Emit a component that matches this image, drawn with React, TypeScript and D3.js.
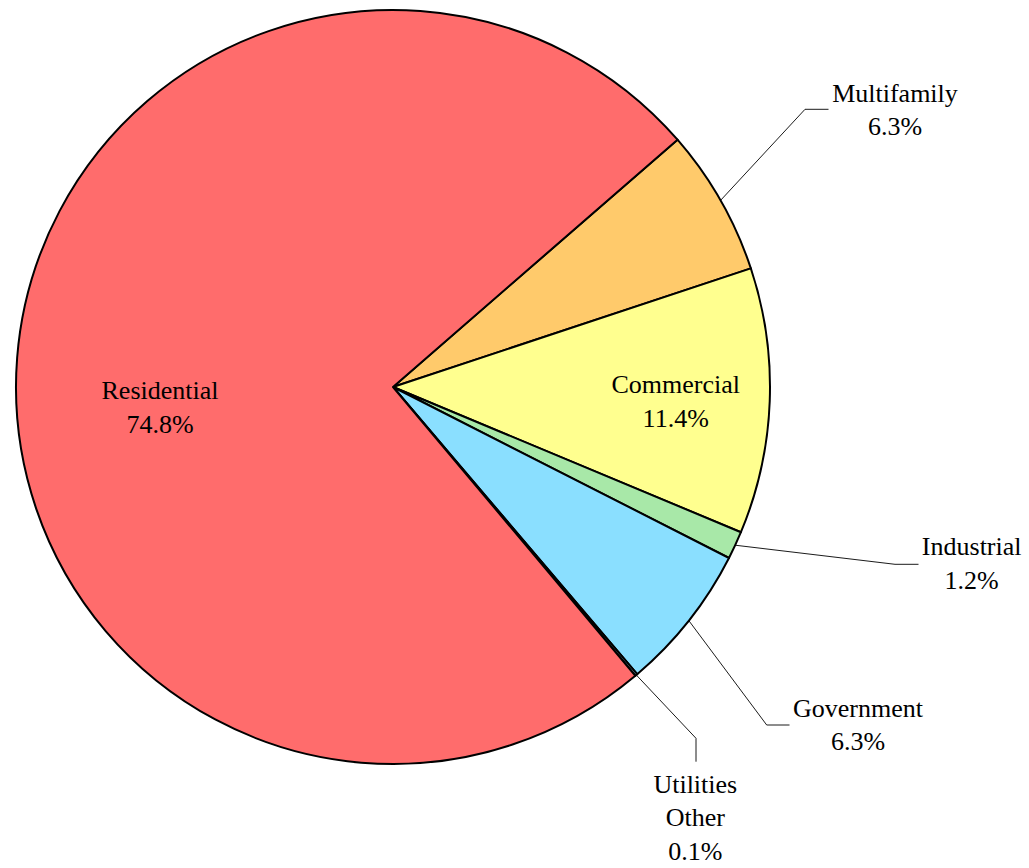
import React from "react";
import * as d3 from "d3";

const categories = ["Multifamily", "Commercial", "Industrial", "Government", "Utilities Other", "Residential"];
const values = [6.3, 11.4, 1.2, 6.3, 0.1, 74.8];
const labelLines = [["Multifamily", "6.3%"], ["Commercial", "11.4%"], ["Industrial", "1.2%"], ["Government", "6.3%"], ["Utilities", "Other", "0.1%"], ["Residential", "74.8%"]];
const colors = ["#FFCA6B", "#FFFF8F", "#A8E8A8", "#8ADFFF", "#8ADFFF", "#FF6C6C"];

// layout: label block center x, first baseline y, optional leader elbow + end
const labelLayout: { x: number; y: number; leader?: [number, number][] }[] = [
  { x: 895, y: 101.7, leader: [[805, 109.3], [828.5, 109.3]] },
  { x: 675.7, y: 393.3 },
  { x: 971.7, y: 555.3, leader: [[895, 564.3], [918.5, 564.3]] },
  { x: 858, y: 716.7, leader: [[766.7, 725], [789.5, 725]] },
  { x: 695.3, y: 792.7, leader: [[696, 738.3], [696, 761.7]] },
  { x: 160, y: 399 },
];

const W = 1029;
const H = 868;
const cx = 385;
const cy = 379;
const R = 377;
const startDeg = 49;
const lineStep = 33.7;

export default function App() {
  const pie = d3
    .pie<number>()
    .sort(null)
    .value((d) => d)
    .startAngle((startDeg * Math.PI) / 180)
    .endAngle((startDeg * Math.PI) / 180 + 2 * Math.PI);
  const arcs = pie(values);
  const arc = d3.arc<d3.PieArcDatum<number>>().innerRadius(0).outerRadius(R);
  const rim = d3.arc<d3.PieArcDatum<number>>().innerRadius(R).outerRadius(R);

  return (
    <svg width={W} height={H} style={{ position: "absolute", left: 0, top: 0 }}>
      <g transform={`translate(${cx + 8},${cy + 8})`}>
        {arcs.map((a, i) => (
          <path key={categories[i]} d={arc(a) || ""} fill={colors[i]} stroke="#000" strokeWidth={2} strokeLinejoin="round" />
        ))}
      </g>
      {arcs.map((a, i) => {
        const L = labelLayout[i];
        const [px, py] = rim.centroid(a);
        const pts: [number, number][] = L.leader ? [[px + cx + 8, py + cy + 8], ...L.leader] : [];
        return (
          <g key={"l" + i}>
            {L.leader && (
              <path d={d3.line()(pts) || ""} fill="none" stroke="#000" strokeWidth={0.9} />
            )}
            <text
              x={L.x}
              y={L.y}
              textAnchor="middle"
              fontFamily="'Liberation Serif', 'Times New Roman', serif"
              fontSize={26}
              fill="#000"
            >
              {labelLines[i].map((t, j) => (
                <tspan key={j} x={L.x} y={L.y + j * lineStep}>
                  {t}
                </tspan>
              ))}
            </text>
          </g>
        );
      })}
    </svg>
  );
}
